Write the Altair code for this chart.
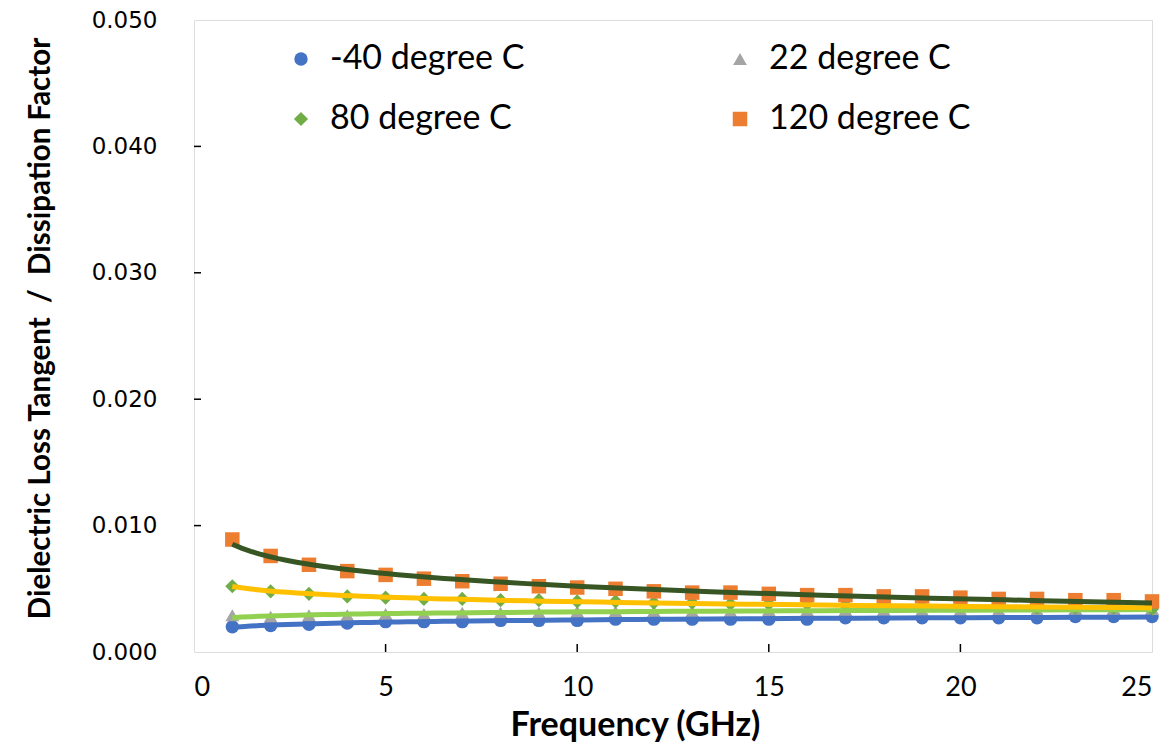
import altair as alt
import pandas as pd

freq = list(range(1, 26))
series_names = ["-40 degree C", "22 degree C", "80 degree C", "120 degree C"]

t_m40 = [0.0020, 0.0021, 0.0022, 0.0023, 0.0024, 0.0024, 0.0024, 0.0025, 0.0025, 0.0025,
         0.0026, 0.0026, 0.0026, 0.0026, 0.0026, 0.0026, 0.0027, 0.0027, 0.0027, 0.0027,
         0.0027, 0.0027, 0.0028, 0.0028, 0.0028]
t_22 = [0.0029, 0.0028, 0.0029, 0.0029, 0.0030, 0.0030, 0.0031, 0.0031, 0.0031, 0.0032,
        0.0032, 0.0032, 0.0032, 0.0032, 0.0033, 0.0033, 0.0033, 0.0033, 0.0033, 0.0033,
        0.0033, 0.0033, 0.0034, 0.0034, 0.0034]
t_80 = [0.0052, 0.0048, 0.0046, 0.0044, 0.0043, 0.0042, 0.0042, 0.0041, 0.0041, 0.0040,
        0.0040, 0.0039, 0.0039, 0.0038, 0.0038, 0.0038, 0.0037, 0.0037, 0.0036, 0.0036,
        0.0036, 0.0035, 0.0035, 0.0035, 0.0034]
t_120 = [0.0089, 0.0076, 0.0069, 0.0064, 0.0061, 0.0058, 0.0056, 0.0054, 0.0052, 0.0051,
         0.0050, 0.0048, 0.0047, 0.0047, 0.0046, 0.0045, 0.0045, 0.0044, 0.0044, 0.0043,
         0.0042, 0.0042, 0.0041, 0.0041, 0.0040]

y_ticks = [0.0, 0.01, 0.02, 0.03, 0.04, 0.05]
x_ticks = [0, 5, 10, 15, 20, 25]
y_inner_ticks = [0.01, 0.02, 0.03, 0.04]
x_inner_ticks = [5, 10, 15, 20]

marker_colors = ["#4472C4", "#A5A5A5", "#70AD47", "#ED7D31"]
marker_shapes = ["circle", "triangle-up", "diamond", "square"]
marker_sizes = [180, 210, 300, 190]
line_colors = ["#4472C4", "#92D050", "#FFC000", "#375623"]

rows = []
for name, vals in zip(series_names, [t_m40, t_22, t_80, t_120]):
    for f, v in zip(freq, vals):
        rows.append({"freq": f, "value": v, "series": name})
df = pd.DataFrame(rows)

W, H = 958, 632

xscale = alt.Scale(domain=[0, 25], nice=False, zero=False)
yscale = alt.Scale(domain=[0, 0.05], nice=False)

xaxis = alt.Axis(values=x_ticks, title="Frequency (GHz)", grid=False, ticks=False, domain=False,
                 labelFont="Lato", labelFontSize=27, labelColor="black", labelPadding=22,
                 titleFont="Lato", titleFontSize=34, titleFontWeight="bold", titleColor="black",
                 titlePadding=8, titleX=441)
yaxis = alt.Axis(values=y_ticks, format=".3f",
                 title="Dielectric Loss Tangent \u00a0/\u00a0 Dissipation Factor",
                 grid=False, ticks=False, domain=False,
                 labelFont="DejaVu Sans", labelFontSize=23, labelColor="black", labelPadding=37,
                 titleFont="Lato", titleFontSize=29.5, titleFontWeight="bold", titleColor="black",
                 titlePadding=36, titleY=H / 2 - 8)

legend = alt.Legend(title=None, orient="none", legendX=90, legendY=22, direction="horizontal",
                    columns=2, columnPadding=198, rowPadding=26,
                    labelFont="Lato", labelFontSize=34, labelColor="black", labelLimit=500,
                    symbolSize=110, labelOffset=12, symbolStrokeWidth=0)

points = alt.Chart(df).mark_point(filled=True, opacity=1).encode(
    x=alt.X("freq:Q", scale=xscale, axis=xaxis),
    y=alt.Y("value:Q", scale=yscale, axis=yaxis),
    color=alt.Color("series:N", scale=alt.Scale(domain=series_names, range=marker_colors),
                    legend=legend),
    shape=alt.Shape("series:N", scale=alt.Scale(domain=series_names, range=marker_shapes),
                    legend=legend),
    size=alt.Size("series:N", scale=alt.Scale(domain=series_names, range=marker_sizes),
                  legend=None),
)

line_layers = []
for name, col in zip(series_names, line_colors):
    line_layers.append(
        alt.Chart(df).transform_filter(alt.datum.series == name).transform_regression(
            "freq", "value", method="log"
        ).mark_line(strokeWidth=5, color=col).encode(
            x=alt.X("freq:Q", scale=xscale),
            y=alt.Y("value:Q", scale=yscale),
        )
    )

ytick_df = pd.DataFrame({"v": y_inner_ticks})
xtick_df = pd.DataFrame({"v": x_inner_ticks})

yticks = alt.Chart(ytick_df).mark_rule(color="black", strokeWidth=1.5).encode(
    y=alt.Y("v:Q", scale=yscale), x=alt.value(0), x2=alt.value(7))
xticks = alt.Chart(xtick_df).mark_rule(color="black", strokeWidth=1.5).encode(
    x=alt.X("v:Q", scale=xscale), y=alt.value(H), y2=alt.value(H - 8))

chart = alt.layer(points, *line_layers, yticks, xticks).properties(
    width=W, height=H,
    autosize=alt.AutoSizeParams(type="none"),
    padding={"left": 186, "top": 12, "right": 15, "bottom": 92},
).configure_view(stroke="black", strokeWidth=2.5).configure(background="white")

chart.save("out.html", embed_options={"renderer": "svg", "actions": False})
